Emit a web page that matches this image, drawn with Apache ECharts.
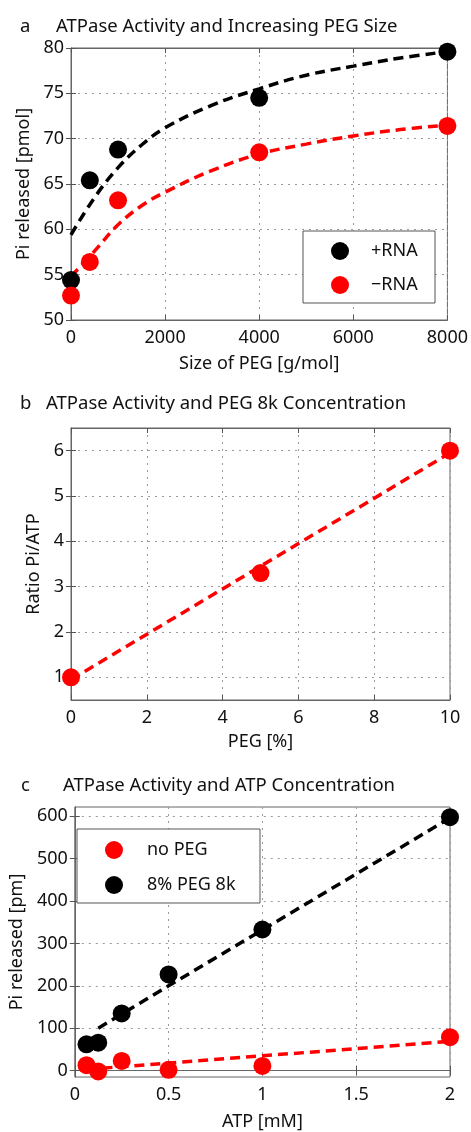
<!DOCTYPE html>
<html>
<head>
<meta charset="utf-8">
<script src="https://cdn.jsdelivr.net/npm/echarts@6/dist/echarts.min.js"></script>
<style>
html, body { margin: 0; padding: 0; background: #fff; }
#view { width: 471px; height: 1132px; }
</style>
</head>
<body>
<div id="view"></div>
<script>
var myChart = echarts.init(document.getElementById('view'));

// panel a: Pi released vs PEG size
var pegSize = [0, 400, 1000, 4000, 8000];
var plusRNA = [54.4, 65.4, 68.8, 74.5, 79.6];
var minusRNA = [52.7, 56.4, 63.2, 68.5, 71.4];
var fitSize = [0, 500, 1000, 1500, 2000, 3000, 4000, 5000, 6000, 7000, 8000];
var fitPlus = [59.4, 63.5, 66.8, 69.3, 71.2, 73.7, 75.5, 77.0, 78.0, 78.9, 79.6];
var fitMinus = [54.8, 57.6, 60.5, 62.6, 64.1, 66.5, 68.3, 69.4, 70.3, 71.0, 71.5];

// panel b: ratio vs PEG concentration
var pegPct = [0, 5, 10];
var ratio = [1.0, 3.3, 6.0];
var fitPct = [0, 5, 10];
var fitRatio = [0.95, 3.45, 5.95];

// panel c: Pi released vs ATP
var atp = [0.0625, 0.125, 0.25, 0.5, 1, 2];
var noPEG = [13, -2, 23, 2, 11, 79];
var withPEG = [62, 66, 135, 227, 333, 598];
var fitAtpNo = [0.0625, 1, 2];
var fitNo = [3, 35, 69];
var fitAtpPeg = [0.125, 0.5, 1, 2];
var fitPeg = [100, 200, 332, 596];

var ticksB = [1, 2, 3, 4, 5, 6];
var ticksC = [0, 100, 200, 300, 400, 500, 600];

var RED = '#ff0000';
var BLK = '#000000';
var FONT = 'Noto Sans';
var FS = 18;

function pairs(xs, ys) {
    var out = [];
    for (var i = 0; i < xs.length; i++) out.push([xs[i], ys[i]]);
    return out;
}

function plain(v) { return String(v); }

function tickStyle() {
    return { inside: true, length: 5, lineStyle: { color: '#555', width: 1 } };
}
function gridLine() {
    return { show: true, lineStyle: { color: '#999', type: [2, 5], width: 1 } };
}

// x axes: bottom with labels, top only ticks
function xAxes(idx, min, max, interval, name, gap) {
    return [{
        type: 'value', gridIndex: idx, min: min, max: max, interval: interval,
        name: name, nameLocation: 'middle', nameGap: gap,
        nameTextStyle: { fontSize: FS, color: '#111', fontFamily: FONT },
        axisLine: { show: true, lineStyle: { color: '#666' } },
        axisTick: tickStyle(),
        axisLabel: { fontSize: FS, color: '#111', margin: 9, fontFamily: FONT, formatter: plain },
        splitLine: gridLine()
    }, {
        type: 'value', gridIndex: idx, min: min, max: max, interval: interval, position: 'top',
        axisLine: { show: true, lineStyle: { color: '#666' } },
        axisTick: tickStyle(), axisLabel: { show: false }, splitLine: { show: false }
    }];
}

function yAxes(idx, min, max, interval, custom, name, gap) {
    var left = {
        type: 'value', gridIndex: idx, min: min, max: max,
        name: name, nameLocation: 'middle', nameGap: gap, nameRotate: 90,
        nameTextStyle: { fontSize: FS, color: '#111', fontFamily: FONT },
        axisLine: { show: true, lineStyle: { color: '#666' } },
        axisTick: tickStyle(),
        axisLabel: { fontSize: FS, color: '#111', margin: 7, fontFamily: FONT, formatter: plain },
        splitLine: gridLine()
    };
    var right = {
        type: 'value', gridIndex: idx, min: min, max: max, position: 'right',
        axisLine: { show: true, lineStyle: { color: '#666' } },
        axisTick: tickStyle(), axisLabel: { show: false }, splitLine: { show: false }
    };
    if (custom) {
        left.axisTick.customValues = custom;
        left.axisLabel.customValues = custom;
        right.axisTick.customValues = custom;
    } else {
        left.interval = interval;
        right.interval = interval;
    }
    return [left, right];
}

var xs = [].concat(
    xAxes(0, 0, 8000, 2000, 'Size of PEG [g/mol]', 35),
    xAxes(1, 0, 10, 2, 'PEG [%]', 33),
    xAxes(2, 0, 2, 0.5, 'ATP [mM]', 36)
);
var ys = [].concat(
    yAxes(0, 50, 80, 5, null, 'Pi released [pmol]', 34),
    yAxes(1, 0.5, 6.5, 1, ticksB, 'Ratio Pi/ATP', 25),
    yAxes(2, -15, 622, 100, ticksC, 'Pi released [pm]', 40)
);

function dots(name, xi, yi, xv, yv, color) {
    return {
        name: name, type: 'scatter', xAxisIndex: xi, yAxisIndex: yi,
        symbol: 'circle', symbolSize: 18, z: 5,
        itemStyle: { color: color, opacity: 1 },
        data: pairs(xv, yv)
    };
}

function fit(name, xi, yi, xv, yv, color, smooth) {
    return {
        name: name, type: 'line', xAxisIndex: xi, yAxisIndex: yi,
        showSymbol: false, symbol: 'none', smooth: smooth, z: 3,
        lineStyle: { color: color, width: 3.5, type: [10, 6] },
        data: pairs(xv, yv)
    };
}

var titleStyle = { fontSize: 18.5, fontWeight: 'normal', color: '#111', fontFamily: FONT };

var option = {
    animation: false,
    backgroundColor: '#fff',
    textStyle: { fontFamily: FONT },
    title: [
        { text: 'a', left: 20, top: 17, padding: 0, textStyle: titleStyle },
        { text: 'ATPase Activity and Increasing PEG Size', left: 56, top: 17, padding: 0, textStyle: titleStyle },
        { text: 'b', left: 20, top: 394, padding: 0, textStyle: titleStyle },
        { text: 'ATPase Activity and PEG 8k Concentration', left: 46, top: 394, padding: 0, textStyle: titleStyle },
        { text: 'c', left: 21, top: 776, padding: 0, textStyle: titleStyle },
        { text: 'ATPase Activity and ATP Concentration', left: 63, top: 776, padding: 0, textStyle: titleStyle }
    ],
    grid: [
        { left: 71, top: 48, width: 379, height: 272, show: true, borderColor: '#666', borderWidth: 1 },
        { left: 71, top: 428, width: 379, height: 272, show: true, borderColor: '#666', borderWidth: 1 },
        { left: 71, top: 807, width: 379, height: 273, show: true, borderColor: '#666', borderWidth: 1 }
    ],
    xAxis: xs,
    yAxis: ys,
    legend: [{
        data: ['+RNA', '\u2212RNA'], orient: 'vertical', left: 331, top: 242, padding: 0,
        itemWidth: 18, itemHeight: 18, itemGap: 16, z: 11, selectedMode: false,
        textStyle: { fontSize: FS, color: '#111', padding: [0, 0, 0, 17] }
    }, {
        data: ['no PEG', '8% PEG 8k'], orient: 'vertical', left: 105, top: 841, padding: 0,
        itemWidth: 18, itemHeight: 18, itemGap: 17, z: 11, selectedMode: false,
        textStyle: { fontSize: FS, color: '#111', padding: [0, 0, 0, 19] }
    }],
    graphic: [
        { type: 'rect', z: 10, shape: { x: 303, y: 231, width: 132, height: 72 },
          style: { fill: '#fff', stroke: '#555', lineWidth: 1 } },
        { type: 'rect', z: 10, shape: { x: 77, y: 829, width: 183, height: 74 },
          style: { fill: '#fff', stroke: '#555', lineWidth: 1 } }
    ],
    series: [
        fit('+RNA fit', 0, 0, fitSize, fitPlus, BLK, 0.4),
        fit('\u2212RNA fit', 0, 0, fitSize, fitMinus, RED, 0.4),
        dots('+RNA', 0, 0, pegSize, plusRNA, BLK),
        dots('\u2212RNA', 0, 0, pegSize, minusRNA, RED),

        fit('ratio fit', 2, 2, fitPct, fitRatio, RED, false),
        dots('PEG 8k', 2, 2, pegPct, ratio, RED),

        fit('no PEG fit', 4, 4, fitAtpNo, fitNo, RED, false),
        fit('PEG fit', 4, 4, fitAtpPeg, fitPeg, BLK, false),
        dots('no PEG', 4, 4, atp, noPEG, RED),
        dots('8% PEG 8k', 4, 4, atp, withPEG, BLK)
    ]
};

myChart.setOption(option);
</script>
</body>
</html>
